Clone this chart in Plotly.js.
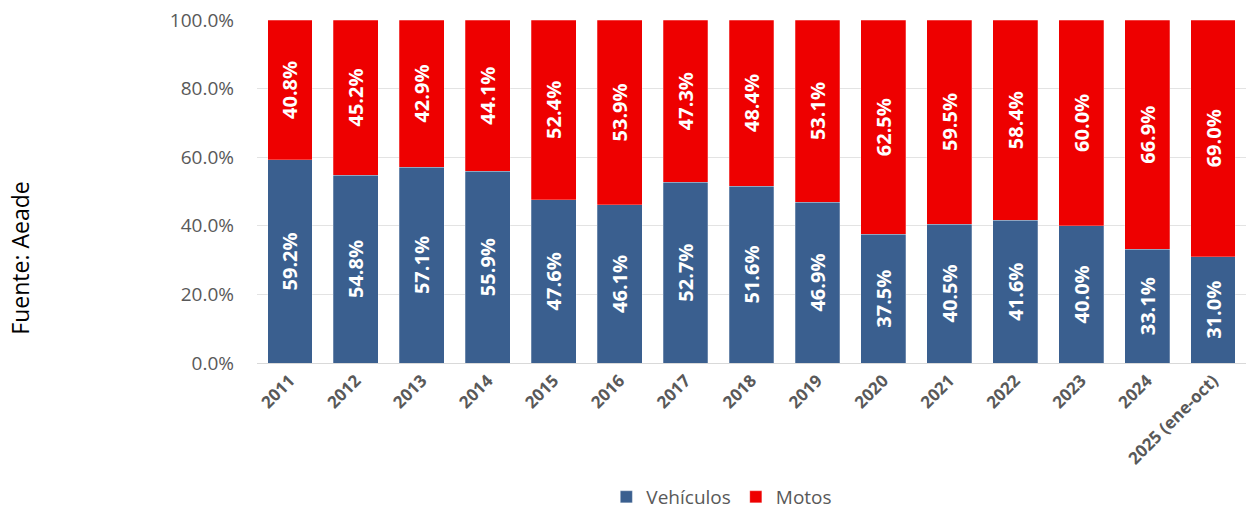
<!DOCTYPE html>
<html>
<head>
<meta charset="utf-8">
<script src="https://cdn.plot.ly/plotly-3.0.1.min.js"></script>
<style>html,body{margin:0;padding:0;background:#fff;}#chart{width:1248px;height:509px;}</style>
</head>
<body>
<div id="chart"></div>
<script>
const categories = ["2011","2012","2013","2014","2015","2016","2017","2018","2019","2020","2021","2022","2023","2024","2025 (ene-oct)"];
const vehiculos = [59.2,54.8,57.1,55.9,47.6,46.1,52.7,51.6,46.9,37.5,40.5,41.6,40.0,33.1,31.0];
const motos = [40.8,45.2,42.9,44.1,52.4,53.9,47.3,48.4,53.1,62.5,59.5,58.4,60.0,66.9,69.0];
const seriesNames = ["Vehículos","Motos"];
const yTicks = [0,20,40,60,80,100];
const yTickText = ["0.0%","20.0%","40.0%","60.0%","80.0%","100.0%"];

const font = "'Open Sans', 'Noto Sans', sans-serif";
const labelFont = {family: font, size: 20, color: "#ffffff", weight: 700};

const traces = [
  {type:"bar", name: seriesNames[0], x: categories, y: vehiculos,
   marker:{color:"#3A5F8F", line:{color:"rgba(255,255,255,0.5)", width:0.5}},
   texttemplate:"%{y:.1f}%", textposition:"inside", insidetextanchor:"middle",
   textangle:-90, textfont: labelFont, constraintext:"none"},
  {type:"bar", name: seriesNames[1], x: categories, y: motos,
   marker:{color:"#EE0000", line:{color:"rgba(255,255,255,0.5)", width:0.5}},
   texttemplate:"%{y:.1f}%", textposition:"inside", insidetextanchor:"middle",
   textangle:-90, textfont: labelFont, constraintext:"none"}
];

const layout = {
  width:1248, height:509,
  margin:{l:257, r:2, t:20, b:146},
  barmode:"stack", bargap:0.32,
  paper_bgcolor:"#fff", plot_bgcolor:"#fff",
  font:{family:font, color:"#595959"},
  showlegend:true,
  legend:{orientation:"h", x:0.47, xanchor:"center", y:0.5, yanchor:"middle",
          yref:"container", font:{family:font, size:19, color:"#595959"}, traceorder:"normal"},
  xaxis:{type:"category", tickangle:-45, automargin:false,
         tickfont:{family:font, size:17, color:"#595959", weight:700},
         showline:true, linecolor:"#d9d9d9", linewidth:1, ticks:"", showgrid:false},
  yaxis:{range:[0,100], tickvals:yTicks, ticktext:yTickText, automargin:false,
         tickfont:{family:font, size:19, color:"#595959"},
         showgrid:true, gridcolor:"#e3e3e3", gridwidth:1, zeroline:false,
         ticklabelstandoff:22, showline:false},
  annotations:[{text:"Fuente: Aeade", xref:"paper", yref:"paper", x:-0.24, y:0.306,
    xanchor:"center", yanchor:"middle",
    textangle:-90, showarrow:false, font:{family:font, size:23, color:"#000"}}]
};

// place legend centred at pixel row 497 of the container
layout.legend.y = (509 - 497) / 509;

Plotly.newPlot("chart", traces, layout, {displayModeBar:false, staticPlot:true});
</script>
</body>
</html>
